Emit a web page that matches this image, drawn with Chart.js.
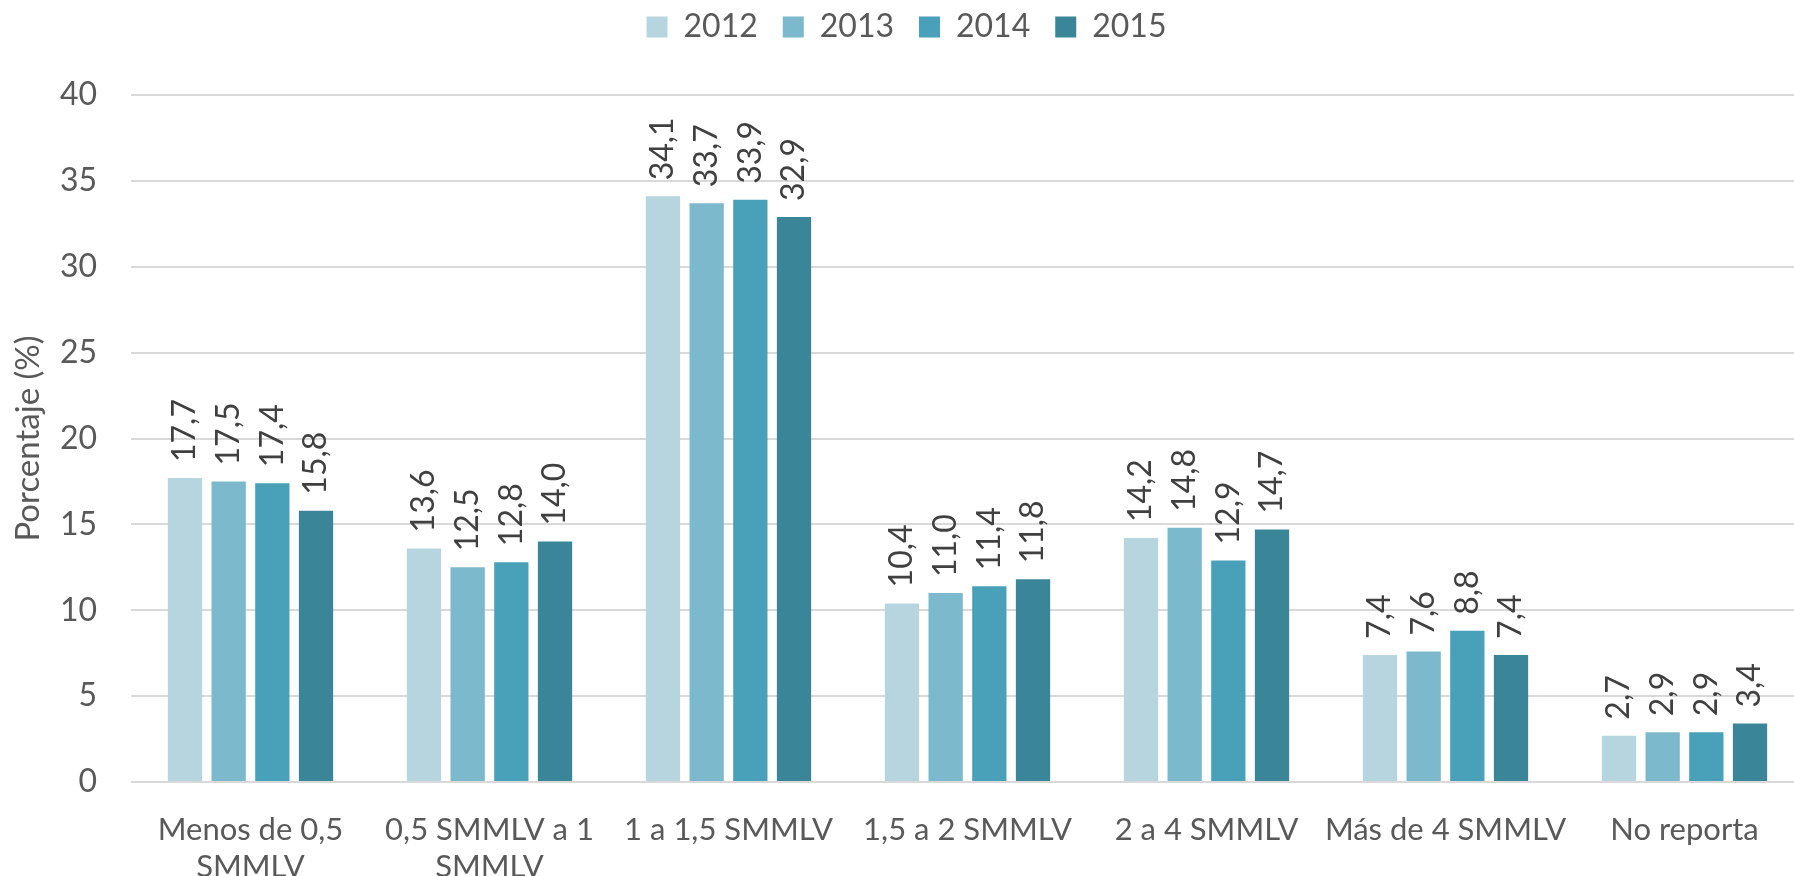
<!DOCTYPE html>
<html>
<head>
<meta charset="utf-8">
<title>Ingresos por rango de SMMLV</title>
<script src="https://cdn.jsdelivr.net/npm/chart.js@4.4.1/dist/chart.umd.min.js"></script>
<style>
  html, body { margin: 0; padding: 0; background: #fff; overflow: hidden; }
  #wrap { width: 1806px; height: 890px; }
</style>
</head>
<body>
<div id="wrap"><canvas id="chartCanvas" width="1806" height="890"></canvas></div>
<script>
//data
const categories = [
  ["Menos de 0,5", "SMMLV"],
  ["0,5 SMMLV a 1", "SMMLV"],
  "1 a 1,5 SMMLV",
  "1,5 a 2 SMMLV",
  "2 a 4 SMMLV",
  "Más de 4 SMMLV",
  "No reporta",
];
const years = ["2012", "2013", "2014", "2015"];
const values2012 = [17.7, 13.6, 34.1, 10.4, 14.2, 7.4, 2.7];
const values2013 = [17.5, 12.5, 33.7, 11.0, 14.8, 7.6, 2.9];
const values2014 = [17.4, 12.8, 33.9, 11.4, 12.9, 8.8, 2.9];
const values2015 = [15.8, 14.0, 32.9, 11.8, 14.7, 7.4, 3.4];
const yTicksMin = 0;
const yTicksMax = 40;
const yTicksStep = 5;
const yTitle = "Porcentaje (%)";

const colors = ["#b6d5df", "#7db9cc", "#48a1b9", "#3a8598"];
const series = [values2012, values2013, values2014, values2015];

Chart.defaults.font.family = "Lato, 'Open Sans', sans-serif";

//value labels drawn above each bar, rotated
const barLabels = {
  id: "barLabels",
  afterDatasetsDraw(chart) {
    const ctx = chart.ctx;
    ctx.save();
    ctx.font = "32px Lato, 'Open Sans', sans-serif";
    ctx.fillStyle = "#404040";
    ctx.textAlign = "left";
    ctx.textBaseline = "middle";
    chart.data.datasets.forEach((ds, i) => {
      chart.getDatasetMeta(i).data.forEach((bar, j) => {
        const txt = ds.data[j].toFixed(1).replace(".", ",");
        ctx.save();
        ctx.translate(bar.x, bar.y - 16);
        ctx.rotate(-Math.PI / 2);
        ctx.fillText(txt, 0, 0);
        ctx.restore();
      });
    });
    ctx.restore();
  },
};

//fix the legend height so the plot top lands where it should
const legendHeight = {
  id: "legendHeight",
  beforeInit(chart) {
    const fit = chart.legend.fit;
    chart.legend.fit = function () {
      fit.call(this);
      this.height = 109;
    };
  },
};

const chart = new Chart(document.getElementById("chartCanvas"), {
  type: "bar",
  data: {
    labels: categories,
    datasets: years.map((y, i) => ({
      label: y,
      data: series[i],
      backgroundColor: colors[i],
      borderWidth: 0,
      categoryPercentage: 0.731,
      barPercentage: 0.785,
    })),
  },
  options: {
    responsive: false,
    animation: false,
    layout: { padding: { top: -14, left: 9, right: 2, bottom: 0 } },
    plugins: {
      tooltip: { enabled: false },
      legend: {
        position: "top",
        labels: {
          boxWidth: 21,
          boxHeight: 21,
          padding: 25,
          color: "#595959",
          font: { size: 32 },
        },
      },
    },
    scales: {
      x: {
        grid: { display: false },
        border: { display: false },
        ticks: {
          color: "#595959",
          font: { size: 31 },
          padding: 21,
          maxRotation: 0,
          autoSkip: false,
        },
        afterFit(scale) {
          scale.height = 108;
        },
      },
      y: {
        min: yTicksMin,
        max: yTicksMax,
        grid: { color: "#d9d9d9", lineWidth: 2, drawTicks: false },
        border: { display: false },
        ticks: {
          stepSize: yTicksStep,
          color: "#595959",
          font: { size: 32 },
          padding: 34,
        },
        title: {
          display: true,
          text: yTitle,
          color: "#595959",
          font: { size: 33 },
          padding: { top: 0, bottom: 0 },
        },
        afterFit(scale) {
          scale.width = 122;
        },
      },
    },
  },
  plugins: [barLabels, legendHeight],
});
</script>
</body>
</html>
